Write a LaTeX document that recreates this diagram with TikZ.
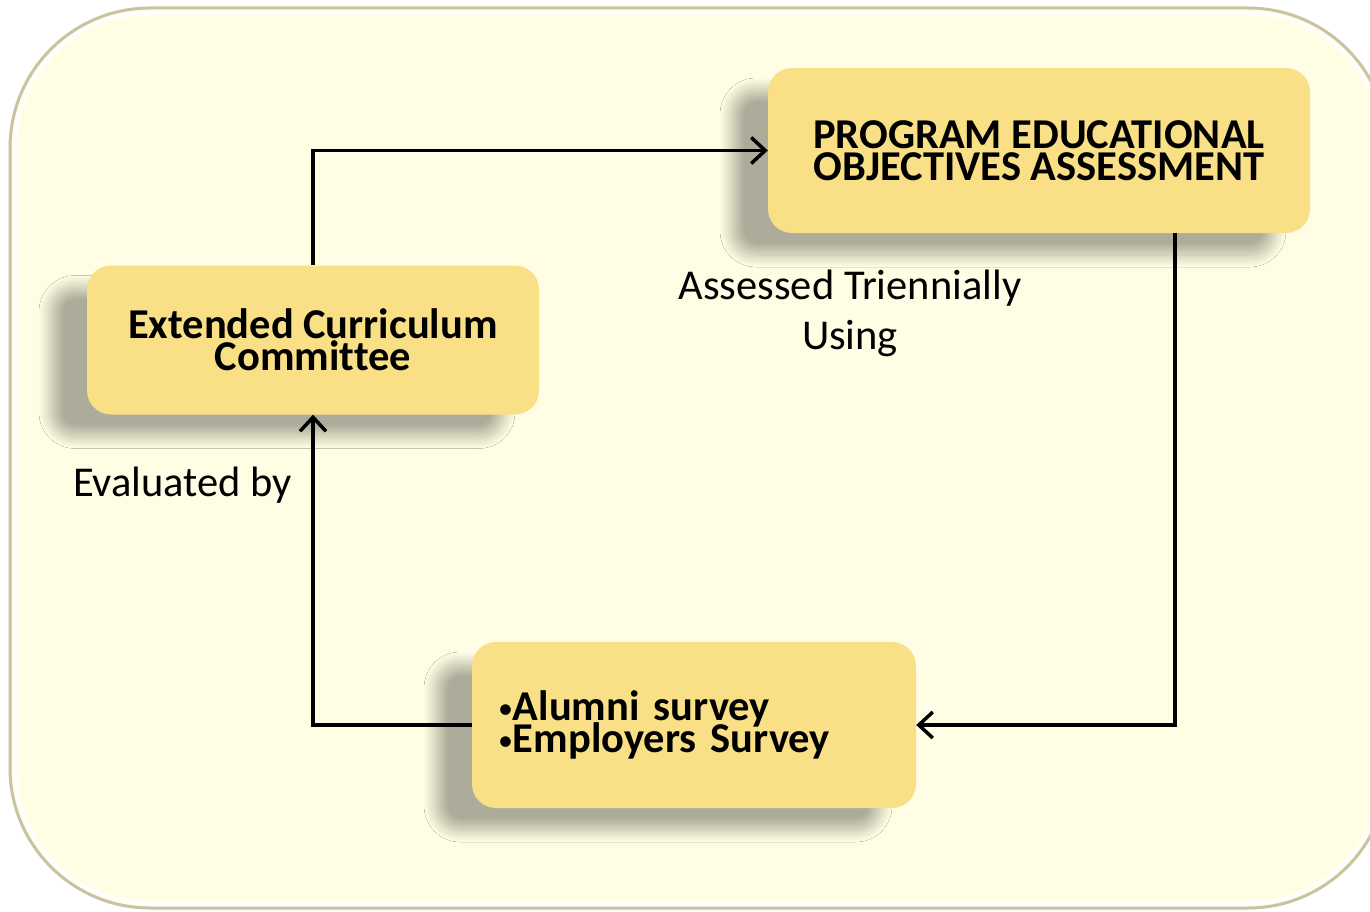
\documentclass[tikz,border=0pt]{standalone}
\usepackage{fontspec}
\setmainfont{Carlito}[Ligatures=NoCommon]
\usetikzlibrary{arrows.meta, positioning, shadows.blur}
\definecolor{panelfill}{RGB}{255,254,228}
\definecolor{paneledge}{RGB}{200,195,160}
\definecolor{boxfill}{RGB}{249,224,134}
\newcommand{\bul}{{\mdseries\fontsize{30}{32}\selectfont\raisebox{2pt}{•}}}
\newcommand{\tightlines}{\lineskiplimit=-100pt\relax}
\tikzset{
  box/.style={rectangle, rounded corners=24pt, fill=boxfill, draw=none, inner sep=0pt,
    font=\fontsize{42.5}{32}\selectfont\bfseries\tightlines,
    blur shadow={shadow xshift=-36pt, shadow yshift=-22pt, shadow blur radius=12pt,
      shadow blur steps=24, shadow opacity=32}},
  link/.style={line width=3.5pt, -{Straight Barb[length=14pt,width=26pt]}},
  lbl/.style={font=\fontsize{42.5}{50}\selectfont, inner sep=0pt}
}

\begin{document}
\begin{tikzpicture}[x=1pt, y=-1pt]
  \useasboundingbox (0,0) rectangle (1370,912);
  \clip (0,0) rectangle (1370,912);
  \fill[white] (0,0) rectangle (1370,912);

  % panel
  \fill[panelfill, rounded corners=140pt] (10,8) rectangle (1388,908);
  \draw[paneledge, line width=3pt, rounded corners=140pt] (10,8) rectangle (1388,908);
  \draw[white, line width=4pt, opacity=0.9, rounded corners=134pt] (15,13) rectangle (1383,903);

  % boxes
  \node[box, minimum width=542pt, minimum height=165pt, align=center] (peo) at (1039,150.5)
    {PROGRAM EDUCATIONAL\\OBJECTIVES ASSESSMENT};
  \node[box, minimum width=452pt, minimum height=149pt, align=center] (ecc) at (313,340)
    {Extended Curriculum\\Committee};
  \node[box, minimum width=444pt, minimum height=166pt, text width=392pt, align=left] (srv) at (694,725)
    {\bul Alumni survey\\\bul Employers Survey};

  % labels
  \node[lbl, anchor=base] (assessed) at (850,299) {Assessed Triennially};
  \node[lbl, anchor=base] (using) at ([yshift=-50pt]assessed.base) {Using};
  \node[lbl, anchor=base west] (evalby) at (73,496) {Evaluated by};

  % links
  \draw[link] (ecc.north) |- (peo.west);
  \draw[link] ([xshift=136pt]peo.south) |- (srv.east);
  \draw[link] (srv.west) -| (ecc.south);
\end{tikzpicture}
\end{document}
